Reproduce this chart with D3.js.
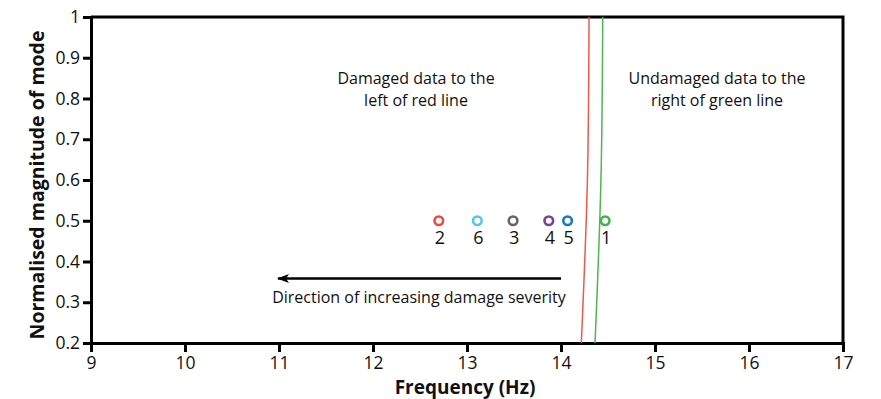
<!DOCTYPE html>
<html>
<head>
<meta charset="utf-8">
<script src="https://cdn.jsdelivr.net/npm/d3@7"></script>
<style>
  body { margin: 0; background: #fff; }
  text { font-family: "Open Sans", "Noto Sans", sans-serif; }
</style>
</head>
<body>
<div id="chart"></div>
<script>
// data
var sampleIds = ["1", "2", "3", "4", "5", "6"];
var sampleFreq = [14.47, 12.70, 13.49, 13.87, 14.07, 13.11];
var sampleMag = [0.5, 0.5, 0.5, 0.5, 0.5, 0.5];
var sampleColors = ["#3fb54b", "#ef4a3c", "#666666", "#7d3d9b", "#1b76c5", "#55c6ee"];

var redFreq = [14.298, 14.281, 14.216];
var greenFreq = [14.444, 14.425, 14.362];
var boundMag = [1.0, 0.6, 0.2];

var xTicks = [9, 10, 11, 12, 13, 14, 15, 16, 17];
var yTicks = [0.2, 0.3, 0.4, 0.5, 0.6, 0.7, 0.8, 0.9, 1];

var W = 881, H = 399;
var margin = {left: 91, right: 38, top: 17, bottom: 56};

var svg = d3.select("#chart").append("svg")
  .attr("width", W)
  .attr("height", H);

var x = d3.scaleLinear().domain([9, 17]).range([margin.left, W - margin.right]);
var y = d3.scaleLinear().domain([0.2, 1]).range([H - margin.bottom, margin.top]);

// frame (top + right)
svg.append("path")
  .attr("d", "M" + x(9) + "," + y(1) + "H" + x(17) + "V" + y(0.2))
  .attr("fill", "none")
  .attr("stroke", "#000")
  .attr("stroke-width", 3);

// axes
var xAxis = svg.append("g")
  .attr("transform", "translate(0," + y(0.2) + ")")
  .call(d3.axisBottom(x).tickValues(xTicks).tickSize(9).tickPadding(4.5).tickFormat(d3.format("d")));
var yAxis = svg.append("g")
  .attr("transform", "translate(" + x(9) + ",0)")
  .call(d3.axisLeft(y).tickValues(yTicks).tickSize(8).tickPadding(3).tickFormat(function(d) { return d === 1 ? "1" : d3.format(".1f")(d); }));

[xAxis, yAxis].forEach(function(g) {
  g.select(".domain").attr("stroke-width", 3);
  g.selectAll(".tick line").attr("stroke-width", 3);
  g.selectAll(".tick text").attr("font-size", 17.5).attr("fill", "#111")
    .style("font-family", "'Open Sans', sans-serif");
});

// boundary lines
var line = d3.line()
  .x(function(d) { return x(d[0]); })
  .y(function(d) { return y(d[1]); })
  .curve(d3.curveNatural);

svg.append("path")
  .datum(d3.zip(redFreq, boundMag))
  .attr("d", line)
  .attr("fill", "none")
  .attr("stroke", "#f0584c")
  .attr("stroke-width", 1.5);

svg.append("path")
  .datum(d3.zip(greenFreq, boundMag))
  .attr("d", line)
  .attr("fill", "none")
  .attr("stroke", "#4cb84f")
  .attr("stroke-width", 1.5);

// sample markers
var samples = sampleIds.map(function(id, i) {
  return {id: id, f: sampleFreq[i], m: sampleMag[i], c: sampleColors[i]};
});

svg.selectAll(".marker")
  .data(samples)
  .enter().append("circle")
  .attr("class", "marker")
  .attr("cx", function(d) { return x(d.f); })
  .attr("cy", function(d) { return y(d.m); })
  .attr("r", 4.3)
  .attr("fill", "#fff")
  .attr("stroke", function(d) { return d.c; })
  .attr("stroke-width", 2.6);

svg.selectAll(".mlabel")
  .data(samples)
  .enter().append("text")
  .attr("class", "mlabel")
  .attr("x", function(d) { return x(d.f) + 1; })
  .attr("y", function(d) { return y(d.m) + 23; })
  .attr("text-anchor", "middle")
  .attr("font-size", 18)
  .attr("fill", "#111")
  .text(function(d) { return d.id; });

// annotations
function note(lines, cx, y0) {
  var t = svg.append("text")
    .attr("text-anchor", "middle")
    .attr("font-size", 16)
    .attr("fill", "#111");
  lines.forEach(function(s, i) {
    t.append("tspan").attr("x", cx).attr("y", y0 + i * 21.5).text(s);
  });
}
note(["Damaged data to the", "left of red line"], 416, 84);
note(["Undamaged data to the", "right of green line"], 717, 84);
note(["Direction of increasing damage severity"], 419, 303);

// arrow
svg.append("defs").append("marker")
  .attr("id", "arrowhead")
  .attr("viewBox", "0 0 12 9")
  .attr("refX", 11).attr("refY", 4.5)
  .attr("markerWidth", 12).attr("markerHeight", 9)
  .attr("markerUnits", "userSpaceOnUse")
  .attr("orient", "auto")
  .append("path")
  .attr("d", "M12,4.5 L0,0 L3,4.5 L0,9 Z")
  .attr("fill", "#000");

svg.append("line")
  .attr("x1", 561).attr("y1", 278.5)
  .attr("x2", 278).attr("y2", 278.5)
  .attr("stroke", "#000")
  .attr("stroke-width", 2.4)
  .attr("marker-end", "url(#arrowhead)");

// axis titles
svg.append("text")
  .attr("x", 465)
  .attr("y", 394)
  .attr("text-anchor", "middle")
  .attr("font-size", 19)
  .attr("font-weight", "bold")
  .attr("fill", "#111")
  .text("Frequency (Hz)");

svg.append("text")
  .attr("transform", "translate(44," + ((y(1) + y(0.2)) / 2 + 5) + ") rotate(-90)")
  .attr("text-anchor", "middle")
  .attr("font-size", 19.5)
  .attr("font-weight", "bold")
  .attr("fill", "#111")
  .text("Normalised magnitude of mode");
</script>
</body>
</html>
